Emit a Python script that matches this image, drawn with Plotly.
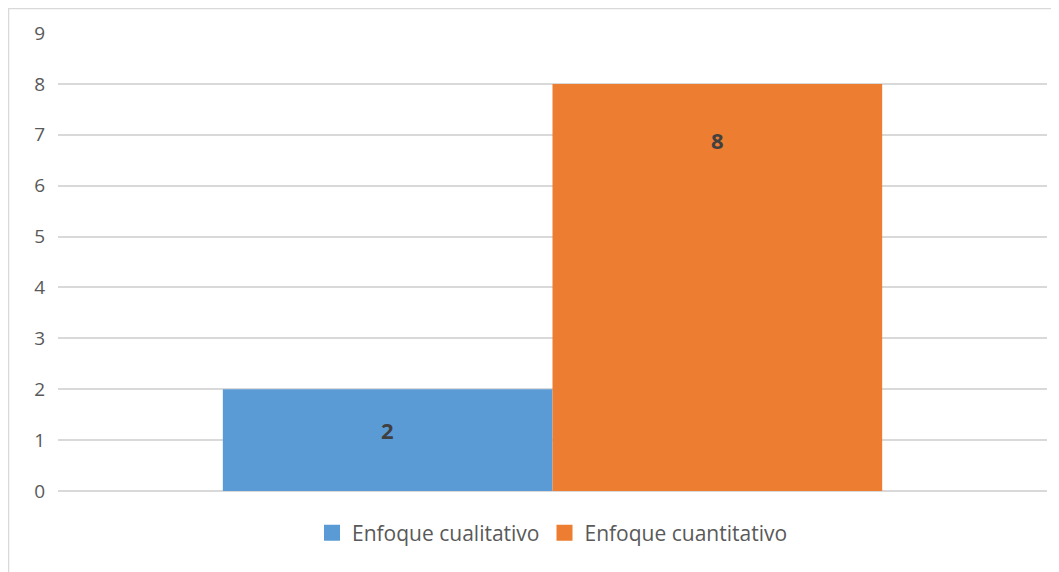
import plotly.graph_objects as go

series_names = ["Enfoque cualitativo", "Enfoque cuantitativo"]
series_values = [2, 8]
series_colors = ["#5B9BD5", "#ED7D31"]
label_shift = [-41, -56]
y_ticks = list(range(0, 10))

fig = go.Figure()
for name, val, col in zip(series_names, series_values, series_colors):
    fig.add_trace(go.Bar(x=[0], y=[val], name=name, marker_color=col,
                         marker_line_width=0, hoverinfo="skip", showlegend=False))
    fig.add_trace(go.Scatter(x=[None], y=[None], mode="markers", name=name,
                             marker=dict(symbol="square", size=16, color=col),
                             hoverinfo="skip"))

n = len(series_values)
group_w = 1 - 1/3
for i, (val, sh) in enumerate(zip(series_values, label_shift)):
    xc = -group_w/2 + group_w/n*(i + 0.5)
    fig.add_annotation(x=xc, y=val, text=f"<b>{val}</b>", showarrow=False,
                       yshift=sh, font=dict(family="Open Sans", size=22, color="#404040"))

W, H = 1051, 564
fig.update_layout(
    width=W, height=H,
    margin=dict(l=50, r=12, t=25, b=81),
    plot_bgcolor="white", paper_bgcolor="white",
    barmode="group", bargap=1/3, bargroupgap=0,
    showlegend=True,
    legend=dict(orientation="h", x=0.5, xanchor="center", y=-0.092, yanchor="middle",
                font=dict(family="Open Sans", size=21, color="#595959"),
                itemsizing="trace", itemwidth=30, tracegroupgap=0),
    xaxis=dict(range=[-0.5, 0.5], showticklabels=False, showgrid=False, zeroline=False,
               showline=False, ticks=""),
    yaxis=dict(range=[0, 9], tickvals=y_ticks, showgrid=True, gridcolor="#D9D9D9",
               gridwidth=1.5, zeroline=True, zerolinecolor="#D9D9D9", zerolinewidth=1.5,
               showline=False, ticks="", ticklabelstandoff=12,
               tickfont=dict(family="Open Sans", size=19, color="#595959")),
)

plot_w = W - 50 - 12
plot_h = H - 25 - 81
fig.add_shape(type="rect", xref="paper", yref="paper",
              x0=(0.5-50)/plot_w, x1=1.1, y0=-0.5, y1=1+(25-0.5)/plot_h,
              line=dict(color="#D9D9D9", width=1.5), fillcolor="rgba(0,0,0,0)", layer="below")

fig.write_html("out.html")
